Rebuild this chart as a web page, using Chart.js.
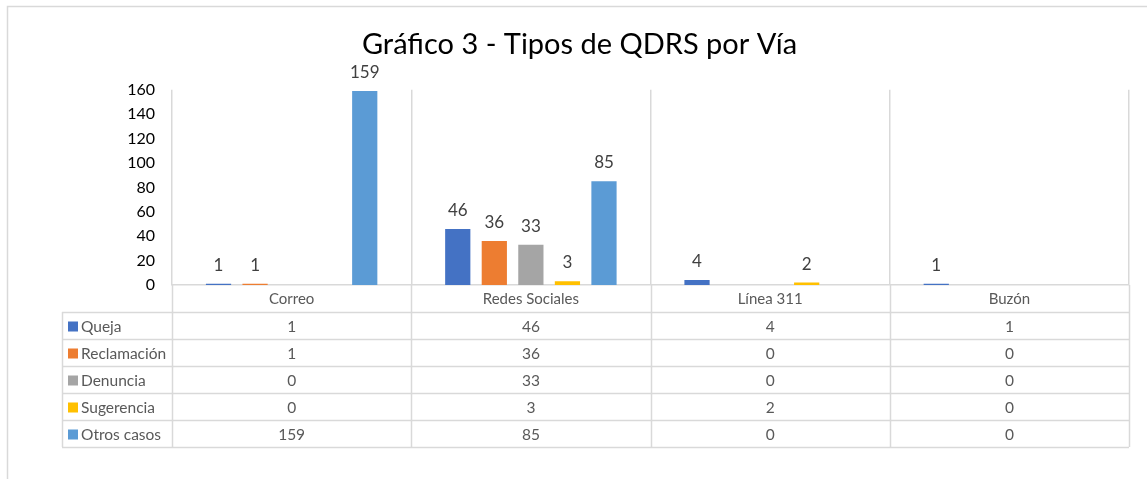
<!DOCTYPE html>
<html>
<head>
<meta charset="utf-8">
<script src="https://cdn.jsdelivr.net/npm/chart.js"></script>
<style>
    html, body { margin: 0; padding: 0; background: #fff; }
    #wrap { width: 1147px; height: 479px; }
</style>
</head>
<body>
<div id="wrap"><canvas id="barChartCanvas" width="1147" height="479"></canvas></div>
<script>
// Tipos de QDRS por Vía
let categories = ['Correo', 'Redes Sociales', 'Línea 311', 'Buzón'];
let seriesNames = ['Queja', 'Reclamación', 'Denuncia', 'Sugerencia', 'Otros casos'];
let queja = [1, 46, 4, 1];
let reclamacion = [1, 36, 0, 0];
let denuncia = [0, 33, 0, 0];
let sugerencia = [0, 3, 2, 0];
let otrosCasos = [159, 85, 0, 0];
let yMax = 160;
let yStep = 20;

let colors = ['#4472C4', '#ED7D31', '#A5A5A5', '#FFC000', '#5B9BD5'];
let seriesValues = [queja, reclamacion, denuncia, sugerencia, otrosCasos];

let FONT = 'Lato, "Open Sans", sans-serif';
let ROW_H = 27;
let TABLE_LEFT = 62;
let LINE = '#d9d9d9';

let barChartData = {
    labels: categories,
    datasets: seriesNames.map(function (name, i) {
        return {
            label: name,
            data: seriesValues[i],
            backgroundColor: colors[i],
            barPercentage: 0.69,
            categoryPercentage: 0.764
        };
    })
};

// marco exterior
let framePlugin = {
    id: 'frame',
    beforeDraw: function (chart) {
        let ctx = chart.ctx;
        ctx.save();
        ctx.strokeStyle = LINE;
        ctx.lineWidth = 1.5;
        ctx.strokeRect(7.5, 6.5, 1300, 600);
        ctx.restore();
    }
};

// etiquetas de valores sobre las barras
let valueLabels = {
    id: 'valueLabels',
    afterDatasetsDraw: function (chart) {
        let ctx = chart.ctx;
        ctx.save();
        ctx.font = '17px ' + FONT;
        ctx.fillStyle = '#404040';
        ctx.textAlign = 'center';
        ctx.textBaseline = 'alphabetic';
        chart.data.datasets.forEach(function (ds, i) {
            chart.getDatasetMeta(i).data.forEach(function (bar, j) {
                let v = ds.data[j];
                if (v > 0) ctx.fillText(String(v), bar.x, bar.y - 13);
            });
        });
        ctx.restore();
    }
};

// tabla de datos debajo del eje
let dataTable = {
    id: 'dataTable',
    afterDraw: function (chart) {
        let ctx = chart.ctx;
        let area = chart.chartArea;
        let x = chart.scales.x;
        let top = x.bottom;
        let rows = chart.data.datasets.length;
        let bottom = top + rows * ROW_H;
        let n = chart.data.labels.length;
        let catW = (area.right - area.left) / n;

        ctx.save();
        ctx.strokeStyle = LINE;
        ctx.lineWidth = 1.5;
        ctx.beginPath();
        for (let r = 0; r <= rows; r++) {
            let y = Math.round(top + r * ROW_H) + 0.5;
            ctx.moveTo(TABLE_LEFT, y);
            ctx.lineTo(area.right, y);
        }
        ctx.moveTo(TABLE_LEFT + 0.5, top);
        ctx.lineTo(TABLE_LEFT + 0.5, bottom);
        for (let c = 0; c <= n; c++) {
            let bx = Math.round(area.left + c * catW) + 0.5;
            ctx.moveTo(bx, area.bottom);
            ctx.lineTo(bx, bottom);
        }
        ctx.stroke();

        ctx.font = '15.5px ' + FONT;
        ctx.textBaseline = 'middle';
        chart.data.datasets.forEach(function (ds, r) {
            let cy = top + r * ROW_H + ROW_H / 2 + 1;
            ctx.fillStyle = ds.backgroundColor;
            ctx.fillRect(TABLE_LEFT + 6, cy - 5, 10, 10);
            ctx.fillStyle = '#595959';
            ctx.textAlign = 'left';
            ctx.fillText(ds.label, TABLE_LEFT + 19, cy);
            ctx.textAlign = 'center';
            ds.data.forEach(function (v, j) {
                ctx.fillText(String(v), x.getPixelForValue(j), cy);
            });
        });
        ctx.restore();
    }
};

let barChartDraw = function () {
    let ctx = document.getElementById('barChartCanvas').getContext('2d');

    window.barChart = new Chart(ctx, {
        type: 'bar',
        data: barChartData,
        plugins: [framePlugin, valueLabels, dataTable],
        options: {
            responsive: false,
            animation: false,
            layout: {
                padding: { left: 30, right: 18, top: 0, bottom: 167 }
            },
            plugins: {
                legend: { display: false },
                tooltip: { enabled: false },
                title: {
                    display: true,
                    text: 'Gráfico 3 - Tipos de QDRS por Vía',
                    color: '#000',
                    font: { family: FONT, size: 29, weight: 'normal' },
                    padding: { top: 27, bottom: 28 }
                }
            },
            scales: {
                x: {
                    grid: {
                        display: true,
                        offset: true,
                        color: LINE,
                        lineWidth: 1.5,
                        drawTicks: false
                    },
                    border: { display: true, color: LINE, width: 1.5 },
                    ticks: {
                        color: '#595959',
                        font: { family: FONT, size: 15 },
                        padding: 5
                    },
                    afterFit: function (scale) { scale.height = ROW_H; }
                },
                y: {
                    min: 0,
                    max: yMax,
                    grid: { display: false, drawTicks: false },
                    border: { display: false },
                    ticks: {
                        stepSize: yStep,
                        color: '#000',
                        font: { family: FONT, size: 16 },
                        padding: 17
                    },
                    afterFit: function (scale) { scale.width = 142; }
                }
            }
        }
    });
};

window.onload = function () {
    barChartDraw();
};
</script>
</body>
</html>
